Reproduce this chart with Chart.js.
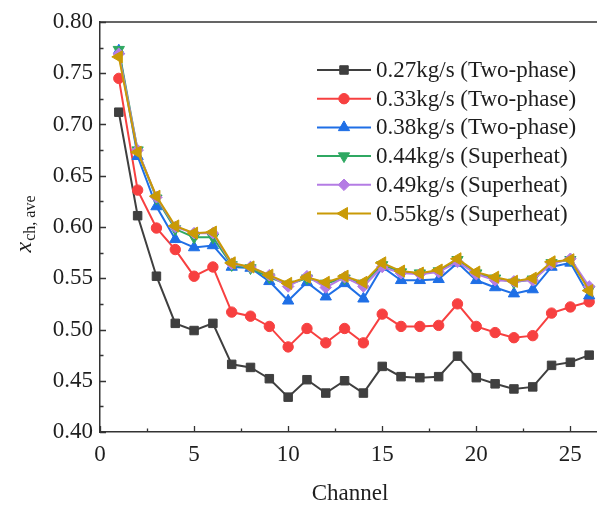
<!DOCTYPE html>
<html>
<head>
<meta charset="utf-8">
<script src="https://cdn.jsdelivr.net/npm/chart.js"></script>
<style>
	html, body { margin: 0; padding: 0; background: #fff; overflow: hidden; }
	#wrap { width: 597px; height: 506px; overflow: hidden; }
	canvas { display: block; }
</style>
</head>
<body>
<div id="wrap"><canvas id="xChart" width="630" height="506" style="width:630px;height:506px"></canvas></div>
<script>
(function () {
	'use strict';

	var channels = [1, 2, 3, 4, 5, 6, 7, 8, 9, 10, 11, 12, 13, 14, 15, 16, 17, 18, 19, 20, 21, 22, 23, 24, 25, 26];

	var seriesLabels = [
		'0.27kg/s (Two-phase)',
		'0.33kg/s (Two-phase)',
		'0.38kg/s (Two-phase)',
		'0.44kg/s (Superheat)',
		'0.49kg/s (Superheat)',
		'0.55kg/s (Superheat)'
	];

	var flow027 = [0.712, 0.611, 0.552, 0.506, 0.499, 0.506, 0.466, 0.463, 0.452, 0.434, 0.451, 0.438, 0.450,
		0.438, 0.464, 0.454, 0.453, 0.454, 0.474, 0.453, 0.447, 0.442, 0.444, 0.465, 0.468, 0.475];
	var flow033 = [0.745, 0.636, 0.599, 0.578, 0.552, 0.561, 0.517, 0.513, 0.503, 0.483, 0.501, 0.487, 0.501,
		0.487, 0.515, 0.503, 0.503, 0.504, 0.525, 0.503, 0.497, 0.492, 0.494, 0.516, 0.522, 0.527];
	var flow038 = [0.772, 0.669, 0.620, 0.588, 0.580, 0.582, 0.561, 0.560, 0.547, 0.528, 0.546, 0.532, 0.545,
		0.530, 0.561, 0.548, 0.548, 0.549, 0.565, 0.548, 0.541, 0.535, 0.539, 0.561, 0.565, 0.533];
	var flow044 = [0.773, 0.675, 0.628, 0.598, 0.590, 0.590, 0.563, 0.560, 0.551, 0.544, 0.550, 0.545, 0.550,
		0.545, 0.563, 0.556, 0.555, 0.557, 0.568, 0.555, 0.550, 0.546, 0.549, 0.565, 0.568, 0.539];
	var flow049 = [0.769, 0.675, 0.629, 0.600, 0.594, 0.594, 0.564, 0.561, 0.553, 0.542, 0.552, 0.541, 0.551,
		0.542, 0.561, 0.555, 0.554, 0.556, 0.566, 0.554, 0.548, 0.547, 0.548, 0.564, 0.569, 0.542];
	var flow055 = [0.766, 0.673, 0.630, 0.601, 0.594, 0.595, 0.565, 0.561, 0.553, 0.545, 0.551, 0.546, 0.552,
		0.546, 0.565, 0.557, 0.555, 0.558, 0.569, 0.556, 0.551, 0.547, 0.550, 0.566, 0.568, 0.538];

	var seriesValues = [flow027, flow033, flow038, flow044, flow049, flow055];

	var COLORS = ['#3f3f3f', '#f74040', '#1f6fe6', '#2fa862', '#b47ce4', '#c99a06'];
	var MARKERS = [
		{ style: 'rect', radius: 6, rotation: 0 },
		{ style: 'circle', radius: 5.2, rotation: 0 },
		{ style: 'triangle', radius: 6.5, rotation: 0 },
		{ style: 'triangle', radius: 6.5, rotation: 180 },
		{ style: 'rectRot', radius: 5.8, rotation: 0 },
		{ style: 'triangle', radius: 7, rotation: -90 }
	];

	var FONT = "'Liberation Serif', 'Times New Roman', serif";
	var TEXT = '#1e1e1e';
	var AXIS = '#333333';

	function toPoints(values) {
		return channels.map(function (c, i) {
			return { x: c, y: values[i] };
		});
	}

	var datasets = seriesValues.map(function (values, i) {
		var m = MARKERS[i];
		return {
			label: seriesLabels[i],
			data: toPoints(values),
			borderColor: COLORS[i],
			backgroundColor: COLORS[i],
			borderWidth: 2,
			pointStyle: m.style,
			pointRadius: m.radius,
			pointRotation: m.rotation,
			pointBackgroundColor: COLORS[i],
			pointBorderColor: COLORS[i],
			pointBorderWidth: 1,
			tension: 0,
			order: seriesValues.length - i
		};
	});

	// frame, inward ticks, axis titles and legend
	var decorations = {
		id: 'decorations',
		afterDraw: function (chart) {
			var ctx = chart.ctx;
			var area = chart.chartArea;
			var xs = chart.scales.x;
			var ys = chart.scales.y;
			var v, px;

			ctx.save();
			ctx.strokeStyle = AXIS;
			ctx.lineWidth = 1.5;
			ctx.beginPath();
			ctx.moveTo(area.left, area.top);
			ctx.lineTo(area.right, area.top);
			ctx.lineTo(area.right, area.bottom);
			ctx.stroke();

			ctx.lineWidth = 1.3;
			ctx.beginPath();
			for (v = 0; v <= 27; v += 2.5) {
				px = Math.round(xs.getPixelForValue(v)) + 0.5;
				ctx.moveTo(px, area.bottom);
				ctx.lineTo(px, area.bottom - (v % 5 === 0 ? 6 : 3.5));
			}
			for (v = 0; v <= 16; v += 1) {
				px = Math.round(ys.getPixelForValue(0.4 + v * 0.025)) + 0.5;
				ctx.moveTo(area.left, px);
				ctx.lineTo(area.left + (v % 2 === 0 ? 6 : 3.5), px);
			}
			ctx.stroke();

			// x title
			ctx.fillStyle = TEXT;
			ctx.font = '23px ' + FONT;
			ctx.textAlign = 'center';
			ctx.textBaseline = 'middle';
			ctx.fillText('Channel', 350, 494);

			// y title: x_{ch, ave}
			ctx.save();
			ctx.translate(31, 224);
			ctx.rotate(-Math.PI / 2);
			ctx.textAlign = 'left';
			ctx.textBaseline = 'alphabetic';
			ctx.font = 'italic 24px ' + FONT;
			var wMain = ctx.measureText('x').width;
			ctx.font = '16px ' + FONT;
			var wSub = ctx.measureText('ch, ave').width;
			var start = -(wMain + 1 + wSub) / 2;
			ctx.font = 'italic 24px ' + FONT;
			ctx.fillText('x', start, 0);
			ctx.font = '16px ' + FONT;
			ctx.fillText('ch, ave', start + wMain + 1, 4);
			ctx.restore();

			// legend
			ctx.font = '23px ' + FONT;
			ctx.textAlign = 'left';
			ctx.textBaseline = 'middle';
			chart.data.datasets.forEach(function (ds, i) {
				var y = 70 + i * 28.7;
				ctx.strokeStyle = ds.borderColor;
				ctx.lineWidth = 2;
				ctx.beginPath();
				ctx.moveTo(317, y);
				ctx.lineTo(371, y);
				ctx.stroke();
				ctx.fillStyle = ds.borderColor;
				ctx.strokeStyle = ds.borderColor;
				ctx.lineWidth = 1;
				if (Chart.helpers && Chart.helpers.drawPoint) {
					Chart.helpers.drawPoint(ctx, {
						pointStyle: ds.pointStyle,
						radius: ds.pointRadius,
						rotation: ds.pointRotation,
						borderWidth: 1
					}, 344, y);
				}
				ctx.fillStyle = TEXT;
				ctx.fillText(ds.label, 376, y + 1);
			});
			ctx.restore();
		}
	};

	new Chart(document.getElementById('xChart'), {
		type: 'line',
		data: { datasets: datasets },
		options: {
			responsive: false,
			animation: false,
			devicePixelRatio: 1,
			layout: { padding: { top: 22, right: 22, left: 0, bottom: 0 } },
			plugins: {
				legend: { display: false },
				tooltip: { enabled: false }
			},
			scales: {
				x: {
					type: 'linear',
					min: 0,
					max: 27,
					grid: { display: false, drawTicks: false },
					border: { display: true, color: AXIS, width: 1.5 },
					ticks: {
						stepSize: 5,
						includeBounds: false,
						padding: 9,
						color: TEXT,
						font: { family: FONT, size: 23 },
						maxRotation: 0
					},
					afterFit: function (scale) { scale.height = 74; }
				},
				y: {
					type: 'linear',
					min: 0.4,
					max: 0.8,
					grid: { display: false, drawTicks: false },
					border: { display: true, color: AXIS, width: 1.5 },
					ticks: {
						stepSize: 0.05,
						padding: 7,
						color: TEXT,
						font: { family: FONT, size: 23 },
						callback: function (v) { return Number(v).toFixed(2); }
					},
					afterFit: function (scale) { scale.width = 100; }
				}
			}
		},
		plugins: [decorations]
	});
})();
</script>
</body>
</html>
